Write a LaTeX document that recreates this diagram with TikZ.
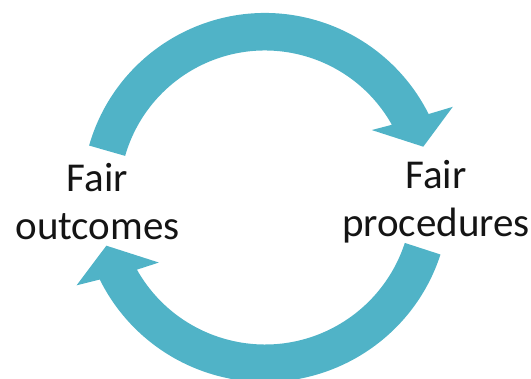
\documentclass[tikz,border=0pt]{standalone}
\usepackage{fontspec}
\setmainfont{Carlito}
\definecolor{arrowteal}{RGB}{80,179,199}
\definecolor{labeltext}{RGB}{20,20,20}
\begin{document}
\begin{tikzpicture}[x=1pt,y=1pt,
  cyclearrow/.style={fill=arrowteal,draw=none},
  label/.style={align=center,text=labeltext,inner sep=0pt,
    font=\fontsize{41}{48}\selectfont}]
\useasboundingbox (0,0) rectangle (531,379);
% top arrow (outcomes -> procedures)
\begin{scope}[shift={(265,183)}]
  \fill[cyclearrow] (164:183) arc[start angle=164,end angle=26.6,radius=183]
    -- (25.4:207.9) -- (17.3:165.8) -- (31.7:125.5) -- (29.3:145.5)
    arc[start angle=29.3,end angle=164,radius=145.5] -- cycle;
\end{scope}
% bottom arrow (procedures -> outcomes)
\begin{scope}[shift={(265,181.5)},rotate=180]
  \fill[cyclearrow] (162:184.5) arc[start angle=162,end angle=26.4,radius=184.5]
    -- (25.0:207.9) -- (16.9:165.8) -- (31.5:124.5) -- (29.4:147)
    arc[start angle=29.4,end angle=162,radius=147] -- cycle;
\end{scope}
\node[label] (outcomes) at (97.5,177) {Fair\\outcomes};
\node[label] (procedures) at (436,177) {Fair\\procedures};
\end{tikzpicture}
\end{document}
